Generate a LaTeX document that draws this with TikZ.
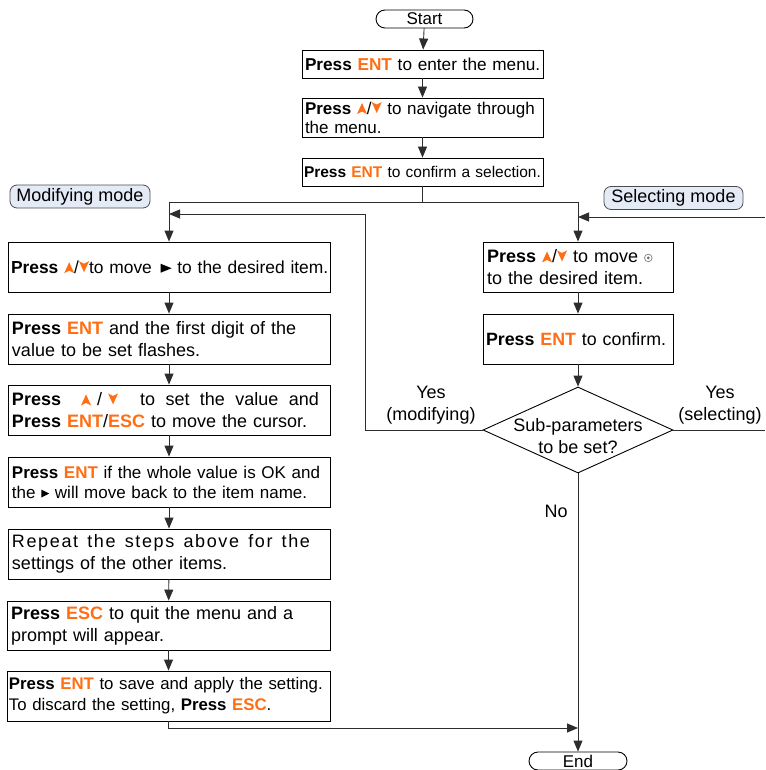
\documentclass[tikz,border=0pt]{standalone}
\usepackage{fontspec}
\setmainfont{Liberation Sans}
\usetikzlibrary{shapes.geometric,arrows.meta}
\definecolor{keyor}{RGB}{255,110,20}
\definecolor{modefill}{RGB}{228,235,247}
\definecolor{linec}{RGB}{45,45,45}
\newcommand\Prs{\textbf{Press}}
\newcommand\K[1]{\textcolor{keyor}{\textbf{#1}}}
\newcommand\keyUp{\tikz[x=1pt,y=1pt,baseline=0pt]\fill[keyor](0,0)--(5,11)--(10,0)--(5,2.5)--cycle;}
\newcommand\keyDown{\tikz[x=1pt,y=1pt,baseline=-1pt]\fill[keyor](0,11)--(5,0)--(10,11)--(5,8.5)--cycle;}
\newcommand\ptrBig{\tikz[x=1pt,y=1pt,baseline=0pt]\fill[black](0,0.5)--(11,5)--(0,9.5)--cycle;}
\newcommand\ptrSmall{\tikz[x=1pt,y=1pt,baseline=0pt]\fill[black](0,0.5)--(8,4.5)--(0,8.5)--cycle;}
\newcommand\selMark{\tikz[x=1pt,y=1pt,baseline=0pt]{\draw[black!45,line width=0.8pt](4.5,4.5) circle(3.8);\fill[black!60](4.5,4.5) circle(1.5);}}
\begin{document}
\begin{tikzpicture}[x=1pt,y=-1pt,
  box/.style={draw=black,line width=0.9pt,inner xsep=4pt,inner ysep=0pt,align=left,anchor=center},
  term/.style={draw=black,line width=0.9pt,rounded corners=9pt,minimum width=97pt,minimum height=18pt,inner sep=0pt,font=\fontsize{17}{19}\selectfont},
  mode/.style={draw=black!70,fill=modefill,rounded corners=7pt,line width=0.8pt,inner sep=0pt,minimum height=23pt,font=\fontsize{18}{21}\selectfont},
  lbl/.style={inner sep=0pt,font=\fontsize{18}{22}\selectfont,align=center},
  conn/.style={draw=linec,line width=0.9pt},
  arr/.style={conn,-{Triangle[length=11pt,width=9pt]}}]
\useasboundingbox (0,0) rectangle (765,770);

% top column
\node[term] (start) at (424.5,19) {Start};
\node[box,text width=235pt,inner xsep=3pt,minimum height=28pt,font=\fontsize{17.2}{19}\selectfont] (b1) at (422.5,64) {\mbox{\Prs{} \K{ENT} to enter the menu.}};
\node[box,text width=235pt,inner xsep=3pt,minimum height=39pt,font=\fontsize{17}{19}\selectfont] (b2) at (422.5,117.5) {\mbox{\Prs{} \keyUp/\keyDown{} to navigate through}\\the menu.};
\node[box,text width=237pt,inner xsep=2pt,minimum height=28pt,font=\fontsize{15.5}{18}\selectfont] (b3) at (422.5,172) {\mbox{\Prs{} \K{ENT} to confirm a selection.}};

% mode labels
\node[mode,minimum width=140pt] (modm) at (80,196.5) {Modifying mode};
\node[mode,minimum width=139pt] (selm) at (673.5,198) {Selecting mode};

% left column
\node[box,text width=316pt,minimum height=50pt,inner xsep=3pt,font=\fontsize{17.4}{20}\selectfont] (l1) at (169,267) {\mbox{\Prs{} \keyUp/\keyDown to move \,\ptrBig{} to the desired item.}};
\node[box,text width=314pt,minimum height=50pt,font=\fontsize{18}{22}\selectfont] (l2) at (169,339) {\Prs{} \K{ENT} and the first digit of the\\value to be set flashes.};
\node[box,text width=314pt,minimum height=50pt,font=\fontsize{18}{22}\selectfont] (l3) at (169,410) {\hbox to 307pt{\Prs\hskip 20pt plus 2pt\keyUp\hskip 6pt/\hskip 6pt\keyDown\hskip 22pt plus 4pt to\hfill set\hfill the\hfill value\hfill and}\\\Prs{} \K{ENT}/\K{ESC} to move the cursor.};
\node[box,text width=314pt,minimum height=50pt,font=\fontsize{17}{20}\selectfont] (l4) at (169,482) {\Prs{} \K{ENT} if the whole value is OK and\\the \ptrSmall{} will move back to the item name.};
\node[box,text width=314pt,minimum height=50pt,font=\fontsize{18}{22}\selectfont] (l5) at (169,554) {\hbox to 298pt{\addfontfeature{LetterSpace=9}Repeat\hfill the\hfill steps\hfill above\hfill for\hfill the}\\settings of the other items.};
\node[box,text width=315pt,minimum height=49pt,font=\fontsize{18}{22}\selectfont] (l6) at (168.5,625.5) {\Prs{} \K{ESC} to quit the menu and a\\prompt will appear.};
\node[box,text width=319pt,inner xsep=2pt,minimum height=50pt,font=\fontsize{16.8}{21}\selectfont] (l7) at (168.5,696) {\mbox{\Prs{} \K{ENT} to save and apply the setting.}\\To discard the setting, \Prs{} \K{ESC}.};

% right column
\node[box,text width=182pt,minimum height=50pt,font=\fontsize{18}{22}\selectfont] (s1) at (578,267) {\Prs{} \keyUp/\keyDown{} to move \selMark\\to the desired item.};
\node[box,text width=184pt,inner xsep=3pt,minimum height=50pt,font=\fontsize{17.8}{22}\selectfont] (s2) at (578,339) {\mbox{\Prs{} \K{ENT} to confirm.}};
\node[diamond,draw=black,line width=0.9pt,minimum width=190pt,minimum height=86pt,inner sep=0pt] (dia) at (578,430) {};
\node[lbl] (diat) at (578,436) {Sub-parameters\\to be set?};
\node[term,minimum width=98pt] (end) at (578,761) {End};

% labels
\node[lbl] (ym) at (431,405.5) {Yes\\(modifying)};
\node[lbl] (ys) at (720,405.5) {Yes\\(selecting)};
\node[lbl] (no) at (556,511) {No};

% junction coordinates
\coordinate (jL) at (169,202);
\coordinate (jR) at (578,202);
\coordinate (lpA) at (365,430);
\coordinate (lpB) at (365,214);
\coordinate (lpT) at (169,214);
\coordinate (eR1) at (765,430);
\coordinate (eR2) at (765,217);
\coordinate (sT) at (578,217);
\coordinate (bJ) at (578,728);

% connectors
\draw[arr] (start) -- (b1);
\draw[arr] (b1) -- (b2);
\draw[arr] (b2) -- (b3);
\draw[conn] (b3.south) -- (b3.south |- jL);
\draw[arr] (jL) -- (l1.north);
\draw[arr] (jL) -- (jR) -- (s1.north);
\draw[arr] (l1) -- (l2);
\draw[arr] (l2) -- (l3);
\draw[arr] (l3) -- (l4);
\draw[arr] (l4) -- (l5);
\draw[arr] (l5) -- (l6);
\draw[arr] (l6) -- (l7);
\draw[arr] (l7.south) |- (bJ);
\draw[arr] (s1) -- (s2);
\draw[arr] (s2) -- (dia.north);
\draw[arr] (dia.west) -- (lpA) -- (lpB) -- (lpT);
\draw[conn] (dia.east) -- (eR1);
\draw[arr] (eR2) -- (sT);
\draw[arr] (dia.south) -- (end.north);
\end{tikzpicture}
\end{document}
